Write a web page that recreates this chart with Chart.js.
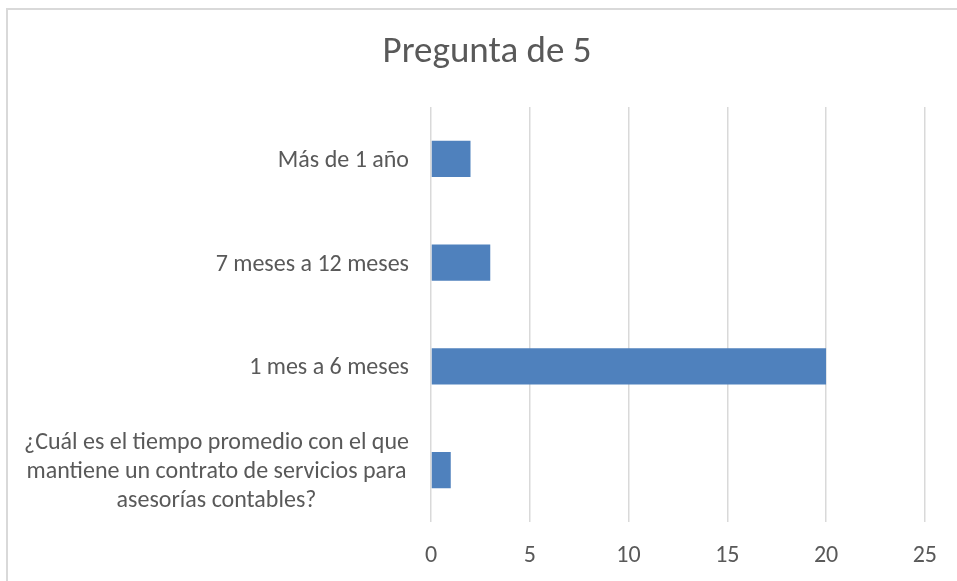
<!DOCTYPE html>
<html>
<head>
<meta charset="utf-8">
<script src="https://cdn.jsdelivr.net/npm/chart.js@4.4.1/dist/chart.umd.min.js"></script>
<style>
  html, body { margin: 0; padding: 0; background: #fff; overflow: hidden; }
  #marco { position: absolute; left: 6px; top: 8px; width: 1000px; height: 700px;
           border-top: 2px solid #d9d9d9; border-left: 2px solid #d9d9d9; }
  #wrap { position: absolute; left: 0; top: 0; width: 957px; height: 581px; }
</style>
</head>
<body>
<div id="marco"></div>
<div id="wrap"><canvas id="grafico"></canvas></div>
<script>
// Datos del gráfico
const titulo = 'Pregunta de 5';
const categorias = [
  ['¿Cuál es el tiempo promedio con el que', 'mantiene un contrato de servicios para', 'asesorías contables?'],
  '1 mes a 6 meses',
  '7 meses a 12 meses',
  'Más de 1 año'
];
const valores = [1, 20, 3, 2];
const ticksX = [0, 5, 10, 15, 20, 25];

// Estilo
const fuente = 'Carlito, Lato, sans-serif';
const gris = '#595959';
const tamLetra = 24;

// Título (centrado en el marco completo, que sigue más allá del borde derecho)
// y etiquetas del eje Y: una línea alineada a la derecha, varias centradas entre sí
const textos = {
  id: 'textos',
  afterDraw(chart) {
    const y = chart.scales.y;
    const ctx = chart.ctx;
    ctx.save();
    ctx.fillStyle = gris;
    ctx.textAlign = 'center';
    ctx.textBaseline = 'middle';

    ctx.font = '37px ' + fuente;
    ctx.fillText(titulo, 487, 53);

    ctx.font = tamLetra + 'px ' + fuente;
    const derecha = chart.chartArea.left - 22;
    const alto = 29;
    categorias.forEach((lab, i) => {
      const lineas = Array.isArray(lab) ? lab : [lab];
      const ancho = Math.max(...lineas.map(l => ctx.measureText(l).width));
      const cx = derecha - ancho / 2;
      const cy = y.getPixelForTick(i) + 2;
      lineas.forEach((l, k) => {
        ctx.fillText(l, cx, cy + (k - (lineas.length - 1) / 2) * alto);
      });
    });
    ctx.restore();
  }
};

new Chart(document.getElementById('grafico'), {
  type: 'bar',
  data: {
    labels: categorias,
    datasets: [{
      data: valores,
      backgroundColor: '#4f81bd',
      borderWidth: 0,
      barPercentage: 1,
      categoryPercentage: 0.347
    }]
  },
  options: {
    indexAxis: 'y',
    responsive: true,
    maintainAspectRatio: false,
    animation: false,
    layout: { padding: { top: 107, left: 7, right: 26, bottom: 16 } },
    plugins: {
      legend: { display: false },
      tooltip: { enabled: false },
      title: { display: false }
    },
    scales: {
      x: {
        min: ticksX[0],
        max: ticksX[ticksX.length - 1],
        ticks: {
          stepSize: ticksX[1] - ticksX[0],
          color: gris,
          padding: 20,
          font: { family: fuente, size: tamLetra }
        },
        grid: { color: '#d9d9d9', lineWidth: 1.5, drawTicks: false },
        border: { display: false },
        afterFit: s => { s.height = 43; }
      },
      y: {
        reverse: true,
        ticks: { color: 'transparent', font: { family: fuente, size: tamLetra } },
        grid: { display: false },
        border: { display: false },
        afterFit: s => { s.width = 424; }
      }
    }
  },
  plugins: [textos]
});
</script>
</body>
</html>
